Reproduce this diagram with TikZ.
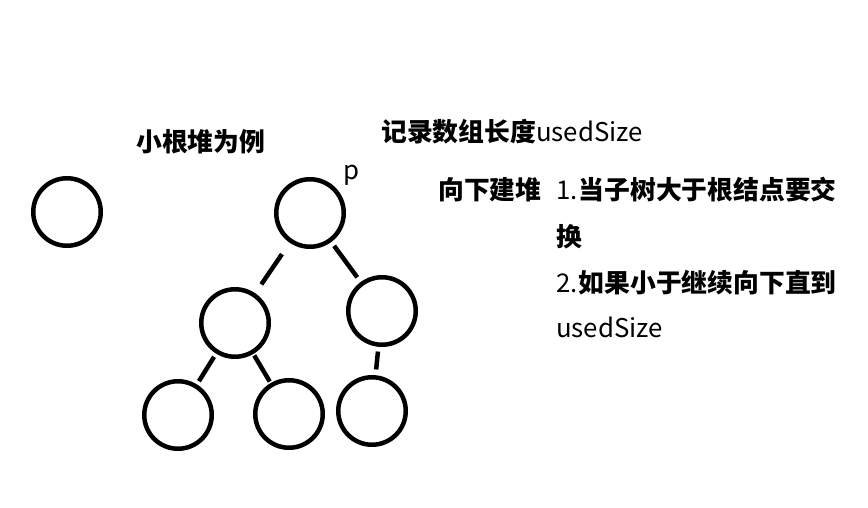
\documentclass[tikz,border=0pt]{standalone}
\usepackage{fontspec}
\setmainfont{Noto Sans CJK SC}
\begin{document}
\begin{tikzpicture}[x=1pt,y=-1pt,
  heapnode/.style={circle,draw,line width=4.5pt,minimum size=67.5pt,inner sep=0pt,outer sep=0pt},
  link/.style={line width=4.5pt},
  txt/.style={anchor=base west,inner sep=0pt,font=\fontsize{25.8}{30}\selectfont}]
\useasboundingbox (0,0) rectangle (868,508);
\node[heapnode] (single) at (67,212) {};
\node[heapnode] (root) at (310,213) {};
\node[heapnode] (l) at (235,323) {};
\node[heapnode] (r) at (382,311) {};
\node[heapnode] (ll) at (178,415) {};
\node[heapnode] (lr) at (289,414) {};
\node[heapnode] (rl) at (372,411) {};
\draw[link,shorten <=16pt,shorten >=13pt] (root) -- (l);
\draw[link,shorten <=7pt,shorten >=8pt] (root) -- (r);
\draw[link,shorten <=6pt,shorten >=6pt] (l) -- (ll);
\draw[link,shorten <=4pt,shorten >=4pt] (l) -- (lr);
\draw[link,shorten <=7pt,shorten >=8pt] (r) -- (rl);
\node[txt] (t1) at (136,152) {\bfseries 小根堆为例};
\node[txt] (t2) at (381,142) {\bfseries 记录数组长度\mdseries usedSize};
\node[txt] (p) at (343,180) {p};
\node[txt] (t3) at (438,200) {\bfseries 向下建堆};
\node[txt] (s1) at (556,200) {1.\kern1pt\bfseries 当子树大于根结点要交};
\node[txt] (s2) at (556,246) {\bfseries 换};
\node[txt] (s3) at (556,292) {2.\kern1pt\bfseries 如果小于继续向下直到};
\node[txt] (s4) at (556,337) {usedSize};
\end{tikzpicture}
\end{document}
